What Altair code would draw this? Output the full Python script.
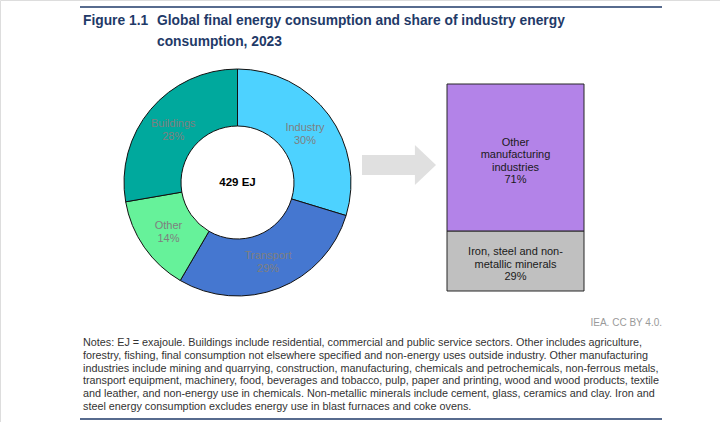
import altair as alt
import pandas as pd

# Final energy consumption by sector, 2023 (share of total, %)
sectors = ["Industry", "Transport", "Other", "Buildings"]
sector_shares = [30, 29, 14, 28]
total_ej = 429

# Split of industry energy consumption (%)
industry_parts = ["Iron, steel and non-metallic minerals", "Other manufacturing industries"]
industry_part_lines = [["Iron, steel and non-", "metallic minerals"], ["Other", "manufacturing", "industries"]]
industry_shares = [29, 71]

title_lines = ["Global final energy consumption and share of industry energy", "consumption, 2023"]
notes_lines = [
    "Notes: EJ = exajoule. Buildings include residential, commercial and public service sectors. Other includes agriculture,",
    "forestry, fishing, final consumption not elsewhere specified and non-energy uses outside industry. Other manufacturing",
    "industries include mining and quarrying, construction, manufacturing, chemicals and petrochemicals, non-ferrous metals,",
    "transport equipment, machinery, food, beverages and tobacco, pulp, paper and printing, wood and wood products, textile",
    "and leather, and non-energy use in chemicals. Non-metallic minerals include cement, glass, ceramics and clay. Iron and",
    "steel energy consumption excludes energy use in blast furnaces and coke ovens.",
]

FONT = "Liberation Sans"
NAVY = "#1f3a68"
LINE_H = 12.5

sector_colors = ["#4dd2ff", "#4577d0", "#66f29a", "#00a99d"]
part_colors = ["#c0c0c0", "#b383e8"]

pie_df = pd.DataFrame({
    "sector": sectors,
    "share": sector_shares,
    "order": list(range(len(sectors))),
})
pie_df["label"] = [f"{s}\n{v}%" for s, v in zip(sectors, sector_shares)]

bar_df = pd.DataFrame({
    "part": industry_parts,
    "share": industry_shares,
    "order": list(range(len(industry_parts))),
})
bar_df["label"] = ["\n".join(lines + [f"{v}%"]) for lines, v in zip(industry_part_lines, industry_shares)]

one = pd.DataFrame({"k": [0]})

# Donut of sector shares
cx, cy = 237.5, 182.5
pie_base = alt.Chart(pie_df).encode(
    theta=alt.Theta("share:Q", stack=True),
    order=alt.Order("order:Q"),
    x=alt.value(cx),
    y=alt.value(cy),
)
arcs = pie_base.mark_arc(outerRadius=113.5, innerRadius=56.5, stroke="#111111", strokeWidth=1).encode(
    color=alt.Color("sector:N", scale=alt.Scale(domain=sectors, range=sector_colors), legend=None)
)
pie_labels = pie_base.mark_text(
    radius=84, font=FONT, fontSize=11, color="#7f7f7f", lineBreak="\n", lineHeight=LINE_H,
    dy=-LINE_H / 2 + 2,
).encode(text="label:N")

center_label = alt.Chart(one).mark_text(
    font=FONT, fontSize=11.5, fontWeight="bold", color="#000000"
).encode(x=alt.value(cx), y=alt.value(cy), text=alt.value(f"{total_ej} EJ"))

# Block arrow between the two panels
arrow_path = "M-1,-0.27 L0.43,-0.27 L0.43,-0.54 L1,0 L0.43,0.54 L0.43,0.27 L-1,0.27 Z"
arrow = alt.Chart(one).mark_point(
    shape=arrow_path, size=74 * 74, filled=True, color="#e0e0e0", opacity=1, strokeWidth=0
).encode(x=alt.value(399), y=alt.value(165))

# Stacked industry bar
yscale = alt.Scale(domain=[0, 100], range=[291, 84])
bar_base = alt.Chart(bar_df).transform_stack(
    stack="share", groupby=[], as_=["y0", "y1"], sort=[alt.SortField("order", order="ascending")]
).transform_calculate(mid="(datum.y0 + datum.y1) / 2")

bar_left, bar_right = 447, 584
bars = bar_base.mark_rect(stroke="#262626", strokeWidth=1).encode(
    x=alt.value(bar_left),
    x2=alt.value(bar_right),
    y=alt.Y("y0:Q", scale=yscale, axis=None),
    y2="y1:Q",
    color=alt.Color("part:N", scale=alt.Scale(domain=industry_parts, range=part_colors), legend=None),
)

# One text layer per segment so each multi-line block is centred on its segment
bar_label_layers = []
for part, lines in zip(industry_parts, industry_part_lines):
    n_lines = len(lines) + 1
    bar_label_layers.append(
        bar_base.transform_filter(alt.datum.part == part).mark_text(
            font=FONT, fontSize=11, color="#1a1a1a", lineBreak="\n", lineHeight=LINE_H,
            dy=-(n_lines - 1) * LINE_H / 2 + 4,
        ).encode(
            x=alt.value((bar_left + bar_right) / 2),
            y=alt.Y("mid:Q", scale=yscale, axis=None),
            text="label:N",
        )
    )

# Header, source line and notes
top_rule = alt.Chart(one).mark_rule(color=NAVY, strokeWidth=1.5).encode(
    x=alt.value(80), x2=alt.value(662), y=alt.value(7)
)
bottom_rule = alt.Chart(one).mark_rule(color=NAVY, strokeWidth=1.5).encode(
    x=alt.value(80), x2=alt.value(662), y=alt.value(419)
)
fig_no = alt.Chart(one).mark_text(
    font=FONT, fontSize=13.8, fontWeight="bold", color=NAVY, align="left", baseline="top"
).encode(x=alt.value(83), y=alt.value(14), text=alt.value("Figure 1.1"))
title = alt.Chart(one).mark_text(
    font=FONT, fontSize=13.8, fontWeight="bold", color=NAVY, align="left", baseline="top",
    lineBreak="\n", lineHeight=21
).encode(x=alt.value(157), y=alt.value(14), text=alt.value("\n".join(title_lines)))
source = alt.Chart(one).mark_text(
    font=FONT, fontSize=10, color="#9a9a9a", align="right", baseline="middle"
).encode(x=alt.value(662), y=alt.value(323), text=alt.value("IEA. CC BY 4.0."))
notes = alt.Chart(one).mark_text(
    font=FONT, fontSize=10.8, color="#333333", align="left", baseline="top",
    lineBreak="\n", lineHeight=12.8
).encode(x=alt.value(83), y=alt.value(337), text=alt.value("\n".join(notes_lines)))

chart = alt.layer(
    arcs, pie_labels, center_label, arrow, bars, *bar_label_layers,
    top_rule, bottom_rule, fig_no, title, source, notes,
).resolve_scale(color="independent").properties(
    width=720, height=422, padding=0, autosize=alt.AutoSizeParams(type="none")
).configure_view(stroke=None).configure(background="white")

chart.save("out.html", embed_options={"renderer": "svg", "actions": False})
